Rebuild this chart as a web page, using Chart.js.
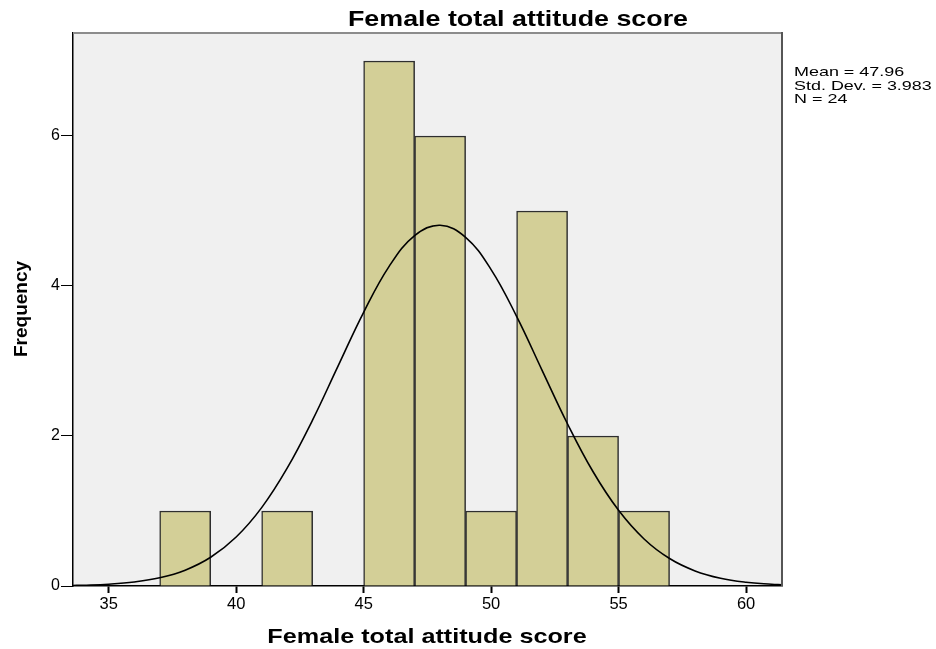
<!doctype html>
<html lang="en">
<head>
  <meta charset="utf-8">
  <title>Female total attitude score</title>
  <script src="https://cdn.jsdelivr.net/npm/chart.js"></script>
  <style>
    html, body { margin: 0; padding: 0; background: #fff; }
    #wrap { width: 936px; height: 649px; }
  </style>
</head>
<body>
  <div id="wrap"><canvas id="histChart" width="936" height="649"></canvas></div>

  <script>
    // histogram bins (bin centres, width 2) and counts
    const binCentres = [38, 42, 46, 48, 50, 52, 54, 56];
    const binCounts = [1, 1, 7, 6, 1, 5, 2, 1];

    // normal curve
    const curveX = [33.6, 34, 35, 36, 37, 38, 39, 40, 41, 42, 43, 44, 45, 46, 47, 48,
                    49, 50, 51, 52, 53, 54, 55, 56, 57, 58, 59, 60, 61, 61.4];
    const curveY = [0.007, 0.01, 0.024, 0.053, 0.109, 0.211, 0.383, 0.653, 1.045, 1.571, 2.215, 2.935, 3.649, 4.262, 4.672, 4.81,
                    4.649, 4.219, 3.595, 2.876, 2.16, 1.523, 1.009, 0.627, 0.366, 0.201, 0.103, 0.05, 0.023, 0.016];

    const xTicks = [35, 40, 45, 50, 55, 60];
    const yTicks = [0, 2, 4, 6];
    const statsLines = ['Mean = 47.96', 'Std. Dev. = 3.983', 'N = 24'];

    const FONT = "'Liberation Sans', Arial, sans-serif";

    function stretchText(ctx, text, x, y, font, sx, align) {
      ctx.save();
      ctx.font = font;
      ctx.fillStyle = '#000';
      ctx.textBaseline = 'alphabetic';
      ctx.textAlign = align;
      ctx.translate(x, y);
      ctx.scale(sx, 1);
      ctx.fillText(text, 0, 0);
      ctx.restore();
    }

    const frame = {
      id: 'frame',
      beforeDraw(chart) {
        const { ctx, chartArea: a } = chart;
        ctx.save();
        ctx.fillStyle = '#f0f0f0';
        ctx.fillRect(a.left, a.top, a.right - a.left, a.bottom - a.top);
        ctx.restore();
      },
      afterDraw(chart) {
        const { ctx, chartArea: a } = chart;
        ctx.save();
        ctx.lineWidth = 2;
        ctx.strokeStyle = '#8c8c8c';
        ctx.beginPath();
        ctx.moveTo(a.left, a.top);
        ctx.lineTo(a.right, a.top);
        ctx.stroke();
        ctx.strokeStyle = '#555';
        ctx.beginPath();
        ctx.moveTo(a.right, a.top - 1);
        ctx.lineTo(a.right, a.bottom);
        ctx.stroke();
        ctx.restore();

        // titles and stats box
        stretchText(ctx, 'Female total attitude score', 518, 26, 'bold 22px ' + FONT, 1.22, 'center');
        stretchText(ctx, 'Female total attitude score', 427, 643, 'bold 21px ' + FONT, 1.2, 'center');
        statsLines.forEach((t, i) => {
          stretchText(ctx, t, 794, 76 + i * 13.5, '13px ' + FONT, 1.38, 'left');
        });
        ctx.save();
        ctx.translate(27, 309);
        ctx.rotate(-Math.PI / 2);
        ctx.font = 'bold 19px ' + FONT;
        ctx.fillStyle = '#000';
        ctx.textAlign = 'center';
        ctx.fillText('Frequency', 0, 0);
        ctx.restore();
      }
    };

    const ctx = document.getElementById('histChart').getContext('2d');
    new Chart(ctx, {
      type: 'bar',
      data: {
        datasets: [
          {
            type: 'line',
            data: curveX.map((x, i) => ({ x, y: curveY[i] })),
            borderColor: '#000',
            borderWidth: 1.6,
            pointRadius: 0,
            tension: 0.4,
            fill: false,
            order: 0
          },
          {
            type: 'bar',
            data: binCentres.map((x, i) => ({ x, y: binCounts[i] })),
            backgroundColor: '#d3cf97',
            borderColor: '#2e2e2e',
            borderWidth: 1.5,
            barPercentage: 1,
            categoryPercentage: 1,
            order: 1
          }
        ]
      },
      options: {
        responsive: false,
        animation: false,
        layout: { padding: { top: 33, right: 154, left: 0, bottom: 0 } },
        plugins: { legend: { display: false }, tooltip: { enabled: false } },
        scales: {
          x: {
            type: 'linear',
            min: 33.6,
            max: 61.41,
            offset: false,
            afterBuildTicks: s => { s.ticks = xTicks.map(v => ({ value: v })); },
            afterFit: s => { s.height = 63; },
            grid: { drawOnChartArea: false, offset: false, tickLength: 7, color: '#000', tickWidth: 2 },
            border: { display: true, color: '#000', width: 1.5 },
            ticks: { font: { family: FONT, size: 16.5 }, color: '#000', padding: 2, maxRotation: 0 }
          },
          y: {
            min: 0,
            max: 7.373,
            afterBuildTicks: s => { s.ticks = yTicks.map(v => ({ value: v })); },
            afterFit: s => { s.width = 73; },
            grid: { drawOnChartArea: false, tickLength: 12, color: '#000', tickWidth: 1 },
            border: { display: true, color: '#000', width: 1.5 },
            ticks: { font: { family: FONT, size: 16 }, color: '#000', padding: 1 }
          }
        }
      },
      plugins: [frame]
    });
  </script>
</body>
</html>
